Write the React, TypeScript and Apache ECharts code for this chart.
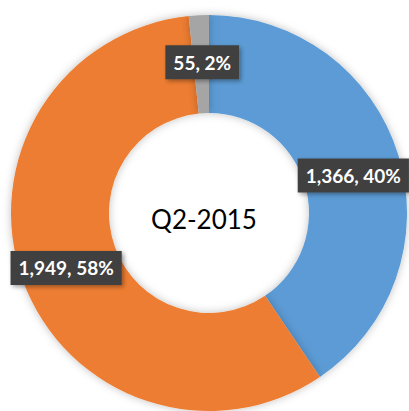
import React, { useEffect, useRef } from "react";
import * as echarts from "echarts";

const categories = ["Blue", "Orange", "Gray"];
const values = [1366, 1949, 55];
const colors = ["#5B9BD5", "#ED7D31", "#A5A5A5"];
const centerLabel = "Q2-2015";

export default function App() {
  const ref = useRef<HTMLDivElement>(null);
  useEffect(() => {
    if (!ref.current) return;
    const chart = echarts.init(ref.current, null, { renderer: "svg" });
    const labelOffsets = [[-1, 7], [0, 3], [1, 1]];
    chart.setOption({
      animation: false,
      backgroundColor: "#ffffff",
      graphic: [
        {
          type: "text",
          x: 204,
          y: 219,
          style: {
            text: centerLabel,
            fill: "#000000",
            font: "26px Lato, 'Open Sans', sans-serif",
            align: "center",
            verticalAlign: "middle",
          },
          z: 10,
        },
      ],
      series: [
        {
          type: "pie",
          center: [209, 213],
          radius: [100, 198],
          startAngle: 90,
          clockwise: true,
          percentPrecision: 0,
          avoidLabelOverlap: false,
          itemStyle: {
            shadowBlur: 8,
            shadowColor: "rgba(0,0,0,0.25)",
          },
          label: {
            show: true,
            position: "inside",
            formatter: (p: any) =>
              p.value.toLocaleString("en-US") + ", " + p.percent + "%",
            color: "#ffffff",
            fontFamily: "Lato, 'Open Sans', sans-serif",
            fontWeight: "bold",
            fontSize: 19,
            backgroundColor: "#404040",
            padding: [8, 8, 7, 8],
            shadowBlur: 4,
            shadowColor: "rgba(0,0,0,0.35)",
            shadowOffsetX: 2,
            shadowOffsetY: 2,
          },
          labelLine: { show: false },
          emphasis: { disabled: true },
          data: categories.map((name, i) => ({
            name,
            value: values[i],
            itemStyle: { color: colors[i] },
            label: { offset: labelOffsets[i] },
          })),
        },
      ],
    });
    return () => chart.dispose();
  }, []);
  return (
    <div
      ref={ref}
      style={{ position: "fixed", left: 0, top: 0, width: 409, height: 411 }}
    />
  );
}
